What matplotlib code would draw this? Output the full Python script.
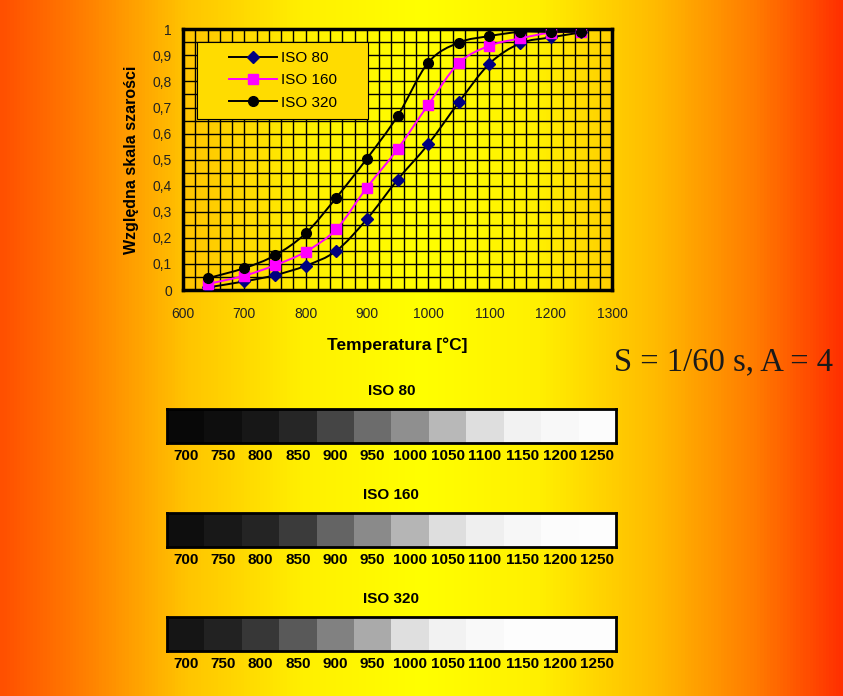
import matplotlib
matplotlib.use('Agg')
import matplotlib.pyplot as plt
import numpy as np
from matplotlib.path import Path
from matplotlib.patches import PathPatch, Rectangle
from matplotlib.lines import Line2D
from matplotlib.colors import LinearSegmentedColormap
from matplotlib.ticker import MultipleLocator, FuncFormatter

plt.rcParams['font.family'] = ['Liberation Sans', 'DejaVu Sans']

# dane
temps = [640, 700, 750, 800, 850, 900, 950, 1000, 1050, 1100, 1150, 1200, 1250]
iso80 = [0.010, 0.033, 0.057, 0.093, 0.150, 0.272, 0.423, 0.559, 0.720, 0.868, 0.946, 0.969, 0.988]
iso160 = [0.023, 0.055, 0.095, 0.147, 0.233, 0.393, 0.540, 0.710, 0.870, 0.937, 0.965, 0.987, 0.990]
iso320 = [0.045, 0.084, 0.133, 0.217, 0.354, 0.504, 0.667, 0.872, 0.949, 0.974, 0.990, 0.990, 0.990]
bar_labels = ['700', '750', '800', '850', '900', '950', '1000', '1050', '1100', '1150', '1200', '1250']


def smooth_path(x, y):
    # wygładzona linia jak w Excelu (Catmull-Rom -> Bezier)
    pts = np.column_stack([x, y]).astype(float)
    n = len(pts)
    verts = [pts[0]]
    codes = [Path.MOVETO]
    for i in range(n - 1):
        p0 = pts[i - 1] if i > 0 else pts[i]
        p3 = pts[i + 2] if i + 2 < n else pts[i + 1]
        c1 = pts[i] + (pts[i + 1] - p0) / 6
        c2 = pts[i + 1] - (p3 - pts[i]) / 6
        verts += [c1, c2, pts[i + 1]]
        codes += [Path.CURVE4] * 3
    return Path(verts, codes)


fig = plt.figure(figsize=(8.43, 6.96), dpi=100)

# tło - gradient poziomy
bg_cmap = LinearSegmentedColormap.from_list('bg', [
    (0.0, '#ff5000'), (0.1, '#ff8000'), (0.22, '#ffc400'), (0.36, '#fff000'),
    (0.5, '#ffff00'), (0.64, '#fff000'), (0.78, '#ffba00'), (0.9, '#ff7a00'),
    (1.0, '#ff3000')])
bg = fig.add_axes([0, 0, 1, 1], zorder=-10)
bg.imshow(np.linspace(0, 1, 843)[np.newaxis, :], cmap=bg_cmap, aspect='auto',
          extent=[0, 1, 0, 1])
bg.axis('off')

# wykres główny
ax = fig.add_axes([0.2171, 0.5833, 0.5089, 0.3746])
ax.set_facecolor('none')
ax.set_xlim(600, 1300)
ax.set_ylim(0, 1)
ax.xaxis.set_major_locator(MultipleLocator(100))
ax.xaxis.set_minor_locator(MultipleLocator(20))
ax.yaxis.set_major_locator(MultipleLocator(0.1))
ax.yaxis.set_minor_locator(MultipleLocator(0.05))
ax.yaxis.set_major_formatter(FuncFormatter(lambda v, p: ('%g' % round(v, 2)).replace('.', ',')))
ax.set_axisbelow(True)
ax.grid(which='both', color='black', lw=1.0)
ax.tick_params(which='both', length=0)
ax.tick_params(axis='y', pad=8, labelsize=10, labelcolor='#222222')
ax.tick_params(axis='x', pad=12, labelsize=10, labelcolor='#222222')
for s in ax.spines.values():
    s.set_linewidth(2.5)

series = [
    (iso80, 'ISO 80', 'black', 'D', '#000080', 6.5),
    (iso160, 'ISO 160', '#ff00ff', 's', '#ff00ff', 7),
    (iso320, 'ISO 320', 'black', 'o', 'black', 7),
]
handles = []
for vals, name, lc, mk, mc, ms in series:
    ax.add_patch(PathPatch(smooth_path(temps, vals), fill=False, ec=lc, lw=1.4, zorder=2))
    ax.plot(temps, vals, ls='none', marker=mk, color=mc, ms=ms, zorder=3)
    handles.append(Line2D([], [], color=lc, lw=1.4, marker=mk, mfc=mc, mec=mc, ms=ms))

# ramka legendy
ax.add_patch(Rectangle((0.033, 0.656), 0.398, 0.296, transform=ax.transAxes,
                       fc='#ffdc00', ec='black', lw=0.8, zorder=1))
ax.legend(handles, ['ISO 80', 'ISO 160', 'ISO 320'], loc='center',
          bbox_to_anchor=(0.232, 0.804), frameon=False, fontsize=11,
          handlelength=3.2, handletextpad=0.2, labelspacing=0.55)

ax.set_ylabel('Względna skala szarości', fontsize=11.5, fontweight='bold', labelpad=10)
ax.set_xlabel('Temperatura [°C]', fontsize=12.5, fontweight='bold', labelpad=12)

fig.text(614 / 843, 1 - 362 / 696, 'S = 1/60 s, A = 4', family='Liberation Serif',
         fontsize=23.5, ha='left', va='center', color='#1a1a1a')

# paski szarości
bar_rows = [('ISO 80', iso80, 0.3635), ('ISO 160', iso160, 0.2141), ('ISO 320', iso320, 0.0647)]
for title, vals, bottom in bar_rows:
    gax = fig.add_axes([0.198, bottom, 0.5326, 0.0489])
    gax.imshow(np.array(vals[1:])[np.newaxis, :], cmap='gray', vmin=0, vmax=1,
               aspect='auto', interpolation='nearest', extent=[-0.5, 11.5, 0, 1])
    gax.set_xticks(range(len(bar_labels)))
    gax.set_xticklabels(bar_labels, fontsize=11, fontweight='bold')
    gax.set_yticks([])
    gax.tick_params(length=0, pad=4.5)
    for s in gax.spines.values():
        s.set_linewidth(2)
    gax.set_title(title, fontsize=11, fontweight='bold', pad=10)

fig.savefig('out.png', dpi=100)
